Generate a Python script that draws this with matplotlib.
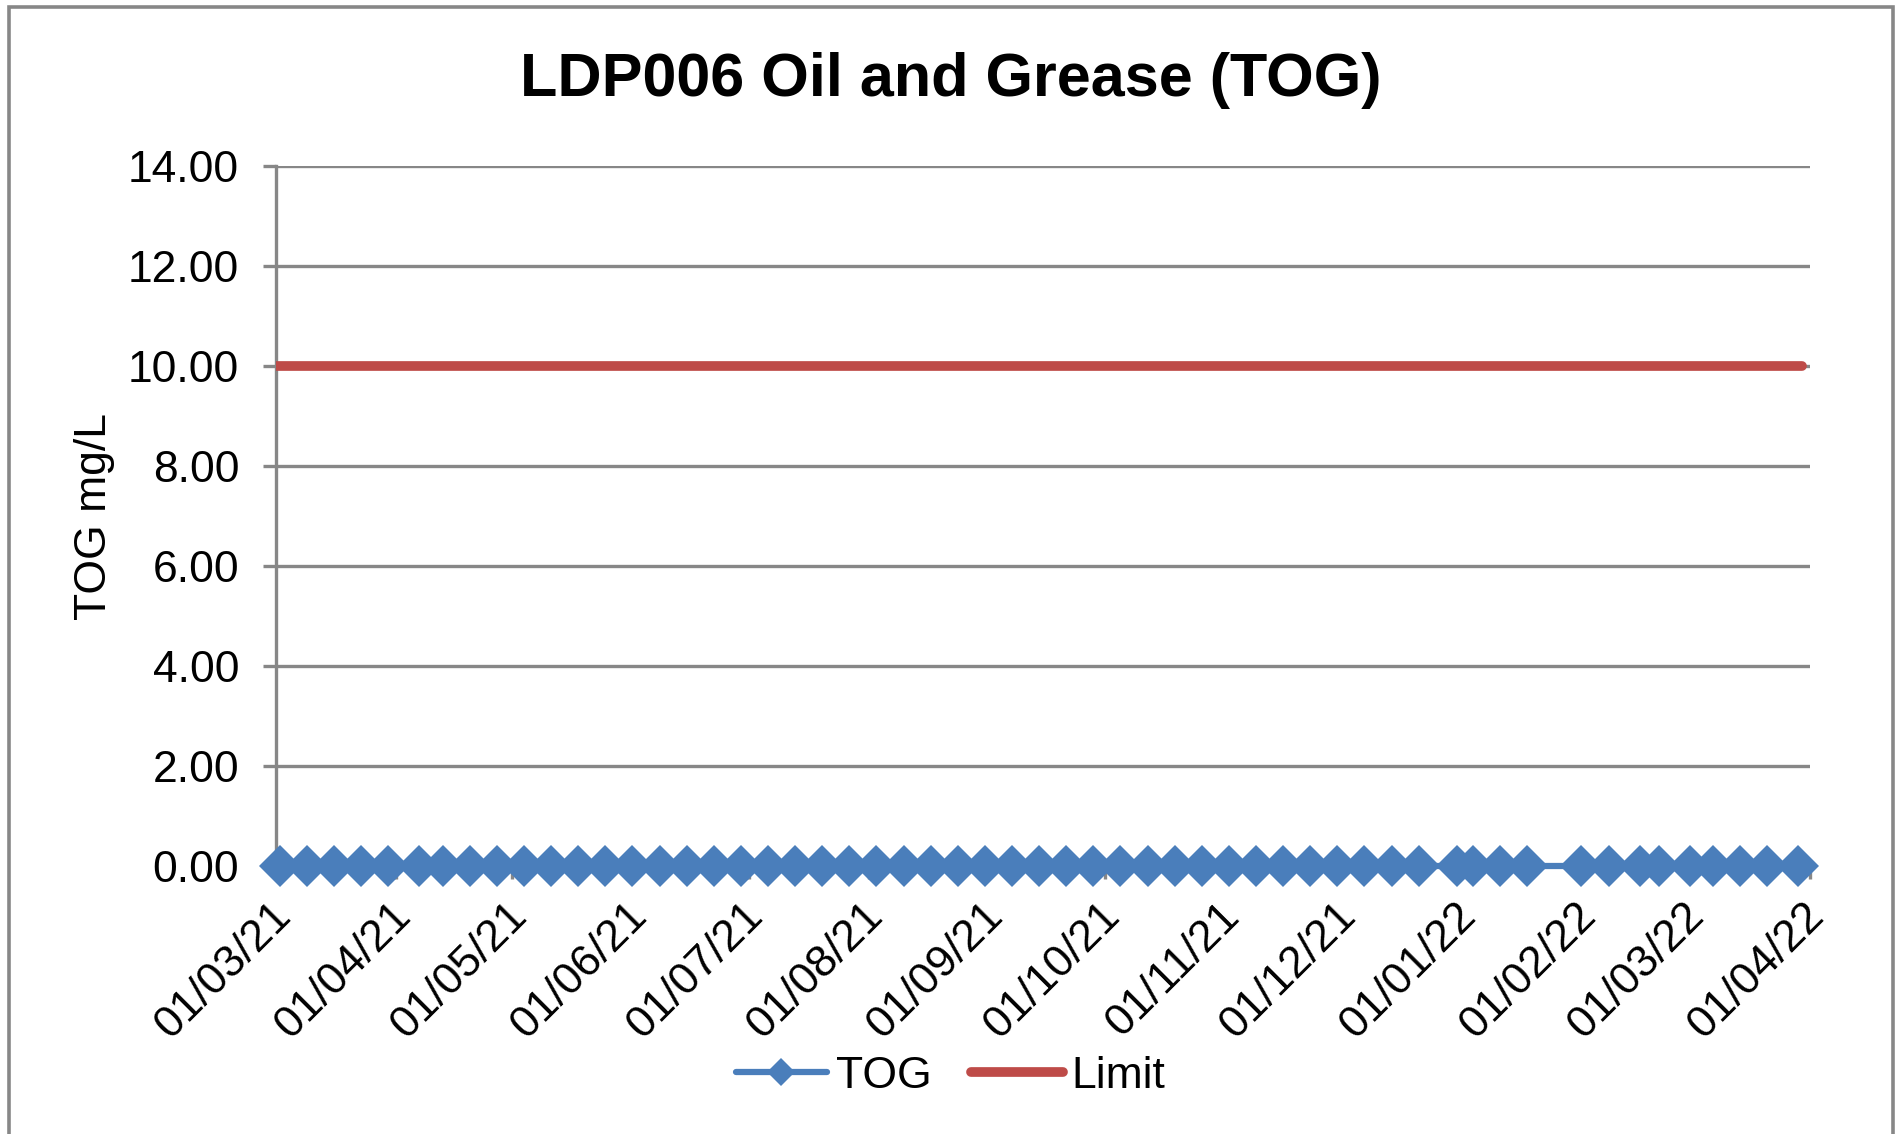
import matplotlib
matplotlib.use("Agg")
import matplotlib.pyplot as plt
import matplotlib.dates as mdates
import matplotlib.transforms as mtransforms
from matplotlib.patches import Rectangle
import pandas as pd

plt.rcParams["font.family"] = ["Liberation Sans", "DejaVu Sans"]

tog_dates = [
    "2021-03-02", "2021-03-09", "2021-03-16", "2021-03-23", "2021-03-30",
    "2021-04-07", "2021-04-13", "2021-04-20", "2021-04-27",
    "2021-05-04", "2021-05-11", "2021-05-18", "2021-05-25",
    "2021-06-01", "2021-06-08", "2021-06-15", "2021-06-22", "2021-06-29",
    "2021-07-06", "2021-07-13", "2021-07-20", "2021-07-27",
    "2021-08-03", "2021-08-10", "2021-08-17", "2021-08-24", "2021-08-31",
    "2021-09-07", "2021-09-14", "2021-09-21", "2021-09-28",
    "2021-10-05", "2021-10-12", "2021-10-19", "2021-10-26",
    "2021-11-02", "2021-11-09", "2021-11-16", "2021-11-23", "2021-11-30",
    "2021-12-07", "2021-12-14", "2021-12-21", "2021-12-31",
    "2022-01-04", "2022-01-11", "2022-01-18",
    "2022-02-01", "2022-02-08", "2022-02-16", "2022-02-21",
    "2022-03-01", "2022-03-07", "2022-03-14", "2022-03-21", "2022-03-29",
]
tog_values = [
    0.0, 0.0, 0.0, 0.0, 0.0, 0.0, 0.0,
    0.0, 0.0, 0.0, 0.0, 0.0, 0.0, 0.0,
    0.0, 0.0, 0.0, 0.0, 0.0, 0.0, 0.0,
    0.0, 0.0, 0.0, 0.0, 0.0, 0.0, 0.0,
    0.0, 0.0, 0.0, 0.0, 0.0, 0.0, 0.0,
    0.0, 0.0, 0.0, 0.0, 0.0, 0.0, 0.0,
    0.0, 0.0, 0.0, 0.0, 0.0, 0.0, 0.0,
    0.0, 0.0, 0.0, 0.0, 0.0, 0.0, 0.0,
]
limit_dates = ["2021-03-01", "2022-03-30"]
limit_values = [10.0, 10.0]

x_start = "2021-03-01"
x_end = "2022-04-01"
y_ticks = [0, 2, 4, 6, 8, 10, 12, 14]

grey = "#878787"
fs = 32

fig = plt.figure(figsize=(19.01, 11.34), dpi=100)
ax = fig.add_axes([0.1452, 0.2363, 0.8069, 0.6173])

# outer chart border (bottom edge is cut off in the original)
fig.patches.append(Rectangle((0.0045, -0.05), 0.9915, 1.044, transform=fig.transFigure,
                             fill=False, edgecolor=grey, linewidth=2.6))

tog_x = pd.to_datetime(tog_dates)
lim_x = pd.to_datetime(limit_dates)

ax.plot(lim_x, limit_values, color="#BE4B48", linewidth=7,
        solid_capstyle="round", label="Limit", zorder=3)
ax.plot(tog_x, tog_values, color="#4A7EBB", linewidth=4.5, marker="D",
        markersize=21, markeredgewidth=0, label="TOG", zorder=4, clip_on=False,
        solid_capstyle="round")

ax.set_xlim(pd.Timestamp(x_start), pd.Timestamp(x_end))
ax.set_ylim(0, 14)
ax.set_yticks(y_ticks)
ax.yaxis.set_major_formatter(matplotlib.ticker.FormatStrFormatter("%.2f"))
ax.xaxis.set_major_locator(mdates.MonthLocator(bymonthday=1))
ax.xaxis.set_major_formatter(mdates.DateFormatter("%d/%m/%y"))

ax.grid(axis="y", color=grey, linewidth=2.4)
ax.set_axisbelow(True)
for side in ["top", "right"]:
    ax.spines[side].set_visible(False)
for side in ["left", "bottom"]:
    ax.spines[side].set_color(grey)
    ax.spines[side].set_linewidth(2.4)

ax.tick_params(axis="y", length=9.5, width=2.4, color=grey, labelsize=fs, pad=17)
ax.tick_params(axis="x", length=9.5, width=2.4, color=grey, labelsize=fs, pad=22)
shift = mtransforms.ScaledTranslation(8 / 100, 0, fig.dpi_scale_trans)
for lbl in ax.get_xticklabels():
    lbl.set_rotation(45)
    lbl.set_ha("right")
    lbl.set_va("center")
    lbl.set_rotation_mode("anchor")
    lbl.set_transform(lbl.get_transform() + shift)

ax.set_ylabel("TOG mg/L", fontsize=fs, labelpad=9)
fig.suptitle("LDP006 Oil and Grease (TOG)", fontsize=44, fontweight="bold",
             x=0.5, y=0.929, va="center")

handles, labels = ax.get_legend_handles_labels()
fig.legend(handles[::-1], labels[::-1], loc="center", bbox_to_anchor=(0.5, 0.051),
           ncol=2, frameon=False, fontsize=fs, handlelength=2.05,
           handletextpad=0.2, columnspacing=0.9, markerscale=0.68)

fig.savefig("out.png", dpi=100)
